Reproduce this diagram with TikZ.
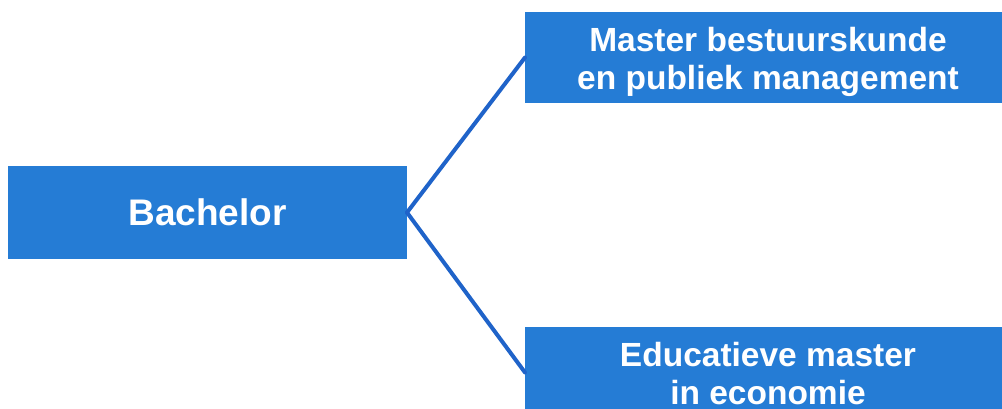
\documentclass[tikz,border=0pt]{standalone}
\usepackage{fontspec}
\setmainfont{Liberation Sans}
\definecolor{boxblue}{RGB}{37,124,213}
\definecolor{lineblue}{RGB}{31,99,201}
\begin{document}
\begin{tikzpicture}[x=1pt,y=-1pt,
  box/.style={fill=boxblue, draw=none, inner sep=0pt, outer sep=0pt},
  boxtext/.style={text=white, inner sep=0pt, align=center, font=\fontsize{33.5}{37.5}\bfseries\selectfont},
  conn/.style={draw=lineblue, line width=4pt, line cap=round, line join=round}]
\useasboundingbox (0,0) rectangle (1002,409);
% boxes
\node[box, minimum width=399pt, minimum height=93pt, text=white,
      font=\fontsize{37}{42}\bfseries\selectfont] (bach) at (207.5,212.5) {Bachelor};
\node[box, minimum width=477pt, minimum height=91pt] (m1) at (763.5,57.5) {};
\node[box, minimum width=477pt, minimum height=91pt] (m2) at (763.5,372.5) {};
% texts
\node[boxtext] (t1) at (768,61.7) {Master bestuurskunde\\en publiek management};
\node[boxtext] (t2) at (768,373.6) {Educatieve master\\in economie};
% connectors
\draw[conn] (bach.east) -- (m1.west);
\draw[conn] (bach.east) -- (m2.west);
\end{tikzpicture}
\end{document}
